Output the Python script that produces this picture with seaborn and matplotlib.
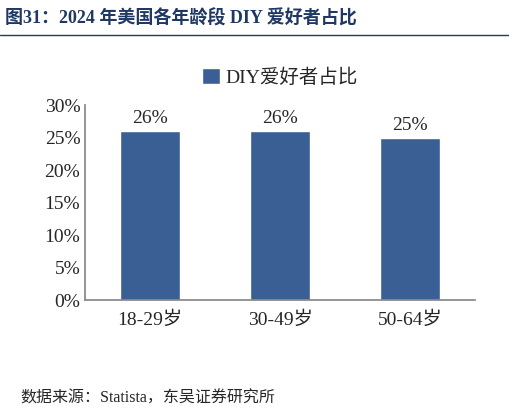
import matplotlib
matplotlib.use("Agg")
import matplotlib.pyplot as plt
import seaborn as sns
import pandas as pd

categories = ["18-29岁", "30-49岁", "50-64岁"]
values = [0.26, 0.26, 0.25]
labels = ["26%", "26%", "25%"]
yticks = [0, 0.05, 0.10, 0.15, 0.20, 0.25, 0.30]

sns.set_theme(style="white")
plt.rcParams['font.family'] = ['Liberation Serif', 'Noto Sans CJK SC']

df = pd.DataFrame({"cat": categories, "val": values})
fig = plt.figure(figsize=(5.1, 4.17), dpi=100)
ax = fig.add_axes([0.167, 0.28, 0.765, 0.468])
sns.barplot(data=df, x="cat", y="val", color="#3A5F94", saturation=1, width=0.46, ax=ax, label="DIY爱好者占比")
ax.set_ylim(0, 0.30)
ax.set_yticks(yticks)
ax.set_yticklabels([f"{int(round(t*100))}%" for t in yticks], fontsize=14)
ax.tick_params(axis='x', labelsize=14, length=0, pad=8)
ax.tick_params(axis='y', length=0)
ax.set_xlabel(""); ax.set_ylabel("")
for s in ["top", "right"]:
    ax.spines[s].set_visible(False)
for s in ["left", "bottom"]:
    ax.spines[s].set_color("#888888")
for i, (v, l) in enumerate(zip(values, labels)):
    ax.text(i, v + 0.006, l, ha="center", va="bottom", fontsize=14)
ax.legend(loc="upper center", bbox_to_anchor=(0.5, 1.28), frameon=False, fontsize=14,
          handlelength=0.9, handleheight=0.9, handletextpad=0.3)

fig.text(0.01, 0.955, "图31：2024 年美国各年龄段 DIY 爱好者占比", fontsize=13, fontweight="bold",
         color="#1F3864", va="center")
fig.add_artist(plt.Line2D([0.0, 1.0], [0.915, 0.915], color="#1F3864", lw=1))
fig.text(0.04, 0.045, "数据来源：Statista，东吴证券研究所", fontsize=11.5, va="center")
fig.savefig("out.png", dpi=100)
